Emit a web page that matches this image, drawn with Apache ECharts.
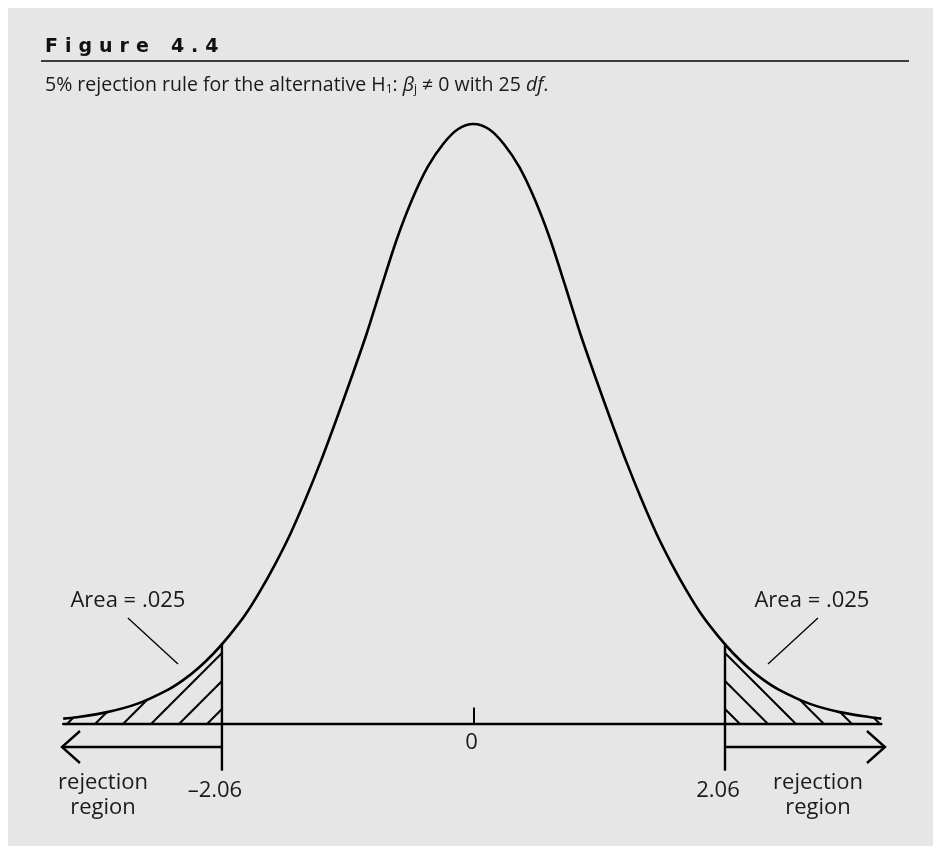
<!DOCTYPE html>
<html>
<head>
<meta charset="utf-8">
<title>Figure 4.4</title>
<script src="https://cdn.jsdelivr.net/npm/echarts@6/dist/echarts.min.js"></script>
<style>
  html, body { margin: 0; padding: 0; background: #fff; }
  #chart { width: 933px; height: 846px; }
</style>
</head>
<body>
<div id="chart"></div>
<script>
// t values along the curve and the density
const tValues = [-3.36, -3.25, -3, -2.75, -2.5, -2.375, -2.25, -2.125, -2, -1.875, -1.75, -1.625, -1.5, -1.375, -1.25, -1.125,
  -1, -0.875, -0.75, -0.625, -0.5, -0.375, -0.25, -0.125, 0,
  0.125, 0.25, 0.375, 0.5, 0.625, 0.75, 0.875, 1,
  1.125, 1.25, 1.375, 1.5, 1.625, 1.75, 1.875, 2, 2.125, 2.25, 2.375, 2.5, 2.75, 3, 3.25, 3.34];
const density = [0.0032, 0.0041, 0.0075, 0.0131, 0.0224, 0.0288, 0.0368, 0.0465, 0.0580, 0.0710, 0.0870, 0.1050, 0.1250, 0.1480, 0.1730, 0.2000,
  0.2280, 0.2570, 0.2890, 0.3200, 0.3460, 0.3670, 0.3820, 0.3920, 0.3953,
  0.3920, 0.3820, 0.3670, 0.3460, 0.3200, 0.2890, 0.2570, 0.2280,
  0.2000, 0.1730, 0.1480, 0.1250, 0.1050, 0.0870, 0.0710, 0.0580, 0.0465, 0.0368, 0.0288, 0.0224, 0.0131, 0.0075, 0.0041, 0.0032];

// critical values of t with 25 df
const critValues = [-2.06, 2.06];
const critDensity = 0.0530;
const critLabels = ['\u20132.06', '2.06'];
const tickValues = [0];
const tickLabels = ['0'];

const areaLabels = ['Area = .025', 'Area = .025'];
const regionLabels = ['rejection\nregion', 'rejection\nregion'];

const FONT = '"Open Sans", "Noto Sans", sans-serif';
const INK = '#1a1a1a';

// hatch pattern for the tails
function makeHatch(dir, offset) {
  const s = 28;
  const cv = document.createElement('canvas');
  cv.width = s; cv.height = s;
  const ctx = cv.getContext('2d');
  ctx.strokeStyle = '#000';
  ctx.lineWidth = 2;
  for (let k = -2; k <= 2; k++) {
    const c = offset + k * s;
    ctx.beginPath();
    if (dir === '/') { // x + y = c
      ctx.moveTo(c + 6, -6); ctx.lineTo(c - 34, 34);
    } else {           // x - y = c
      ctx.moveTo(c - 6, -6); ctx.lineTo(c + 34, 34);
    }
    ctx.stroke();
  }
  return { image: cv, repeat: 'repeat' };
}

const curveData = tValues.map((t, i) => [t, density[i]]);
const leftTail = curveData.filter(p => p[0] < critValues[0]).concat([[critValues[0], critDensity]]);
const rightTail = [[critValues[1], critDensity]].concat(curveData.filter(p => p[0] > critValues[1]));

const chart = echarts.init(document.getElementById('chart'));

// letter-spaced heading
const headFont = { fontFamily: '"DejaVu Sans", sans-serif', fontWeight: 'bold', fontSize: 19, color: '#111' };

const option = {
  backgroundColor: '#fff',
  animation: false,
  graphic: [
    { type: 'rect', z: -10, shape: { x: 8, y: 8, width: 925, height: 838 }, style: { fill: '#e6e6e6' } },
    { type: 'line', shape: { x1: 41, y1: 61, x2: 909, y2: 61 }, style: { stroke: '#3c3c3c', lineWidth: 2 } }
  ],
  title: [
    {
      text: '{c|F}{c|i}{c|g}{c|u}{c|r}{w|e}{c|4}{c|.}{z|4}',
      left: 40, top: 33,
      textStyle: Object.assign({}, headFont, {
        rich: {
          c: Object.assign({}, headFont, { padding: [0, 7, 0, 0] }),
          w: Object.assign({}, headFont, { padding: [0, 22, 0, 0] }),
          z: Object.assign({}, headFont)
        }
      })
    },
    {
      text: '5% rejection rule for the alternative H{sub|1}: {it|\u03b2}{sub|j} \u2260 0 with 25 {it|df}.',
      left: 40, top: 68,
      textStyle: {
        fontFamily: FONT, fontSize: 19.5, fontWeight: 'normal', color: INK, lineHeight: 24,
        rich: {
          sub: { fontFamily: FONT, fontSize: 12, color: INK, lineHeight: 24, padding: [10, 0, 0, 0] },
          it: { fontFamily: FONT, fontSize: 19.5, fontStyle: 'italic', color: INK, lineHeight: 24 }
        }
      }
    }
  ],
  grid: { left: 63.2, right: 51.7, top: 116.9, bottom: 31.5 },
  xAxis: {
    type: 'value',
    min: -3.36,
    max: 3.34,
    splitLine: { show: false },
    axisLine: { onZero: true, lineStyle: { color: '#000', width: 2.4 } },
    axisTick: { show: true, inside: true, length: 16, customValues: tickValues, lineStyle: { color: '#000', width: 2 } },
    axisLabel: { show: false }
  },
  yAxis: { type: 'value', min: -0.06, max: 0.40, show: false },
  series: [
    {
      name: 'left tail', type: 'line', data: leftTail, smooth: 0.3, symbol: 'none', silent: true, z: 1,
      lineStyle: { width: 0 }, areaStyle: { color: makeHatch('/', 7), opacity: 1 }
    },
    {
      name: 'right tail', type: 'line', data: rightTail, smooth: 0.3, symbol: 'none', silent: true, z: 1,
      lineStyle: { width: 0 }, areaStyle: { color: makeHatch('\\', 16), opacity: 1 }
    },
    {
      name: 't(25)', type: 'line', data: curveData, smooth: 0.3, symbol: 'none', z: 3,
      lineStyle: { color: '#000', width: 2.6 }
    },
    {
      // the 0 under the tick mark
      name: 'tick labels', type: 'custom', z: 4, silent: true,
      data: tickValues.map((v, i) => [v, 0, i]),
      renderItem: function (params, api) {
        const p = api.coord([api.value(0), api.value(1)]);
        return {
          type: 'text',
          style: { text: tickLabels[api.value(2)], x: p[0] - 2, y: p[1] + 19, align: 'center', verticalAlign: 'middle', font: '22px ' + FONT, fill: INK }
        };
      }
    },
    {
      // vertical lines at the critical values with their labels
      name: 'critical', type: 'custom', z: 4, silent: true,
      data: critValues.map((c, i) => [c, critDensity, i]),
      renderItem: function (params, api) {
        const x = api.value(0);
        const top = api.coord([x, api.value(1)]);
        const bot = api.coord([x, -0.0311]);
        return {
          type: 'group',
          children: [
            { type: 'line', shape: { x1: top[0], y1: top[1], x2: bot[0], y2: bot[1] }, style: { stroke: '#000', lineWidth: 2.4 } },
            { type: 'text', style: { text: critLabels[api.value(2)], x: bot[0] - 7, y: bot[1] + 20, align: 'center', verticalAlign: 'middle', font: '22px ' + FONT, fill: INK } }
          ]
        };
      }
    },
    {
      // arrows pointing into the rejection regions
      name: 'arrows', type: 'custom', z: 4, silent: true,
      data: [[critValues[0], -3.37, -0.0155], [critValues[1], 3.37, -0.0155]],
      renderItem: function (params, api) {
        const a = api.coord([api.value(0), api.value(2)]);
        const b = api.coord([api.value(1), api.value(2)]);
        const d = b[0] < a[0] ? 1 : -1;
        const st = { stroke: '#000', lineWidth: 2.4, fill: null };
        return {
          type: 'group',
          children: [
            { type: 'line', shape: { x1: a[0], y1: a[1], x2: b[0], y2: b[1] }, style: st },
            { type: 'polyline', shape: { points: [[b[0] + d * 18, b[1] - 16], [b[0], b[1]], [b[0] + d * 18, b[1] + 16]] }, style: st }
          ]
        };
      }
    },
    {
      // "Area = .025" notes with leader lines
      name: 'area notes', type: 'custom', z: 4, silent: true,
      data: [[-2.83, 0.0808, -2.83, 0.0696, -2.42, 0.0392, 0], [2.772, 0.0808, 2.821, 0.0696, 2.412, 0.0392, 1]],
      renderItem: function (params, api) {
        const lab = api.coord([api.value(0), api.value(1)]);
        const p1 = api.coord([api.value(2), api.value(3)]);
        const p2 = api.coord([api.value(4), api.value(5)]);
        return {
          type: 'group',
          children: [
            { type: 'line', shape: { x1: p1[0], y1: p1[1], x2: p2[0], y2: p2[1] }, style: { stroke: '#000', lineWidth: 1.3 } },
            { type: 'text', style: { text: areaLabels[api.value(6)], x: lab[0], y: lab[1], align: 'center', verticalAlign: 'middle', font: '22px ' + FONT, fill: INK } }
          ]
        };
      }
    },
    {
      name: 'region notes', type: 'custom', z: 4, silent: true,
      data: [[-3.034, -0.0475, 0], [2.822, -0.0475, 1]],
      renderItem: function (params, api) {
        const p = api.coord([api.value(0), api.value(1)]);
        return {
          type: 'text',
          style: { text: regionLabels[api.value(2)], x: p[0], y: p[1], align: 'center', verticalAlign: 'middle', font: '22px ' + FONT, lineHeight: 25, fill: INK }
        };
      }
    }
  ]
};

chart.setOption(option);
</script>
</body>
</html>
